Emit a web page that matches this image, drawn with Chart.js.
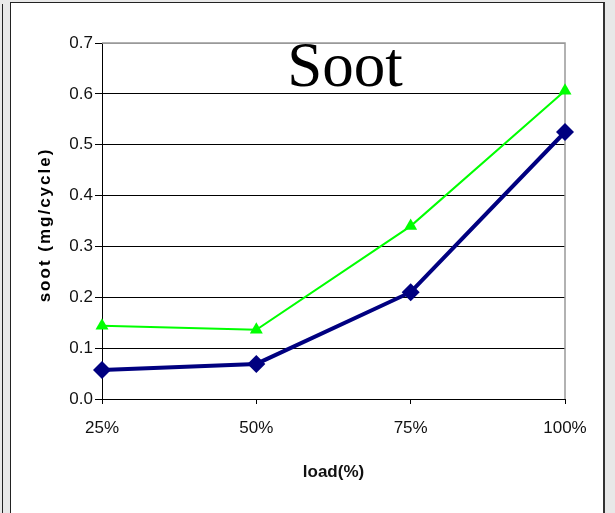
<!DOCTYPE html>
<html>
<head>
<meta charset="utf-8">
<script src="https://cdn.jsdelivr.net/npm/chart.js@4.4.1/dist/chart.umd.min.js"></script>
<style>
  body { margin: 0; background: #e8e8e8; width: 615px; height: 513px; overflow: hidden; position: relative; }
  .edge { position: absolute; left: 2px; top: 4px; width: 1px; height: 520px; background: #222; }
  .box { position: absolute; left: 10px; top: 2px; width: 592px; height: 520px; background: #fff;
         border-left: 1px solid #222; border-top: 1px solid #222; border-right: 2px solid #333; }
  #chart { position: absolute; left: 0; top: 0; }
</style>
</head>
<body>
<div class="edge"></div>
<div class="box"></div>
<canvas id="chart" width="615" height="513"></canvas>
<script>
// data
const loads = ['25%', '50%', '75%', '100%'];
const sootBlue = [0.057, 0.069, 0.21, 0.525];
const sootGreen = [0.144, 0.136, 0.34, 0.606];
const yTicks = [0.0, 0.1, 0.2, 0.3, 0.4, 0.5, 0.6, 0.7];

const chartTitle = 'Soot';
const yTitle = 'soot (mg/cycle)';
const xTitle = 'load(%)';

const sans = '"Liberation Sans", Arial, sans-serif';

// draws the big title inside the plot, the y title and the grey frame on top/right
const extras = {
    id: 'extras',
    beforeDatasetsDraw(chart) {
        const { ctx, chartArea: a } = chart;
        ctx.save();
        ctx.strokeStyle = '#999';
        ctx.lineWidth = 1.5;
        ctx.beginPath();
        ctx.moveTo(a.left, a.top);
        ctx.lineTo(a.right, a.top);
        ctx.lineTo(a.right, a.bottom);
        ctx.stroke();
        ctx.restore();
    },
    afterDraw(chart) {
        const { ctx, chartArea: a } = chart;
        ctx.save();
        ctx.fillStyle = '#000';
        ctx.font = '63px "Liberation Serif", "Times New Roman", serif';
        ctx.textAlign = 'center';
        ctx.textBaseline = 'alphabetic';
        ctx.fillText(chartTitle, a.left + 243, a.top + 43);

        ctx.translate(45, 225);
        ctx.rotate(-Math.PI / 2);
        ctx.font = 'bold 17px ' + sans;
        ctx.letterSpacing = '2px';
        ctx.textBaseline = 'middle';
        ctx.fillText(yTitle, 0, 0);
        ctx.restore();
    }
};

new Chart(document.getElementById('chart').getContext('2d'), {
    type: 'line',
    data: {
        labels: loads,
        datasets: [{
            label: 'series 2',
            data: sootGreen,
            borderColor: '#00ff00',
            backgroundColor: '#00ff00',
            borderWidth: 2,
            pointStyle: 'triangle',
            pointRadius: 7.5,
            pointBorderWidth: 0,
            tension: 0
        }, {
            label: 'series 1',
            data: sootBlue,
            borderColor: '#000080',
            backgroundColor: '#000080',
            borderWidth: 4,
            pointStyle: 'rectRot',
            pointRadius: 9,
            pointBorderWidth: 0,
            tension: 0
        }]
    },
    options: {
        responsive: false,
        animation: false,
        layout: { padding: { top: 43, right: 50, left: 0, bottom: 0 } },
        plugins: {
            legend: { display: false },
            tooltip: { enabled: false }
        },
        scales: {
            x: {
                type: 'category',
                offset: false,
                border: { color: '#000', width: 1 },
                grid: { drawOnChartArea: false, drawTicks: true, tickLength: 5, tickColor: '#000' },
                ticks: {
                    color: '#111', padding: 14, maxRotation: 0,
                    font: { family: sans, size: 17 }
                },
                title: {
                    display: true, text: xTitle, color: '#111',
                    font: { family: sans, size: 17, weight: 'bold' },
                    padding: { top: 0, bottom: 30 }
                },
                afterFit(scale) { scale.height = 114; }
            },
            y: {
                min: 0,
                max: 0.7,
                border: { color: '#000', width: 1 },
                grid: {
                    color: (c) => (c.tick && c.tick.value > 0.65 ? '#999' : '#000'),
                    tickColor: '#000',
                    tickLength: 7
                },
                afterBuildTicks(scale) { scale.ticks = yTicks.map(v => ({ value: v })); },
                ticks: {
                    color: '#111', padding: 2,
                    font: { family: sans, size: 17 },
                    callback: (v) => Number(v).toFixed(1)
                },
                afterFit(scale) { scale.width = 102; }
            }
        }
    },
    plugins: [extras]
});
</script>
</body>
</html>
